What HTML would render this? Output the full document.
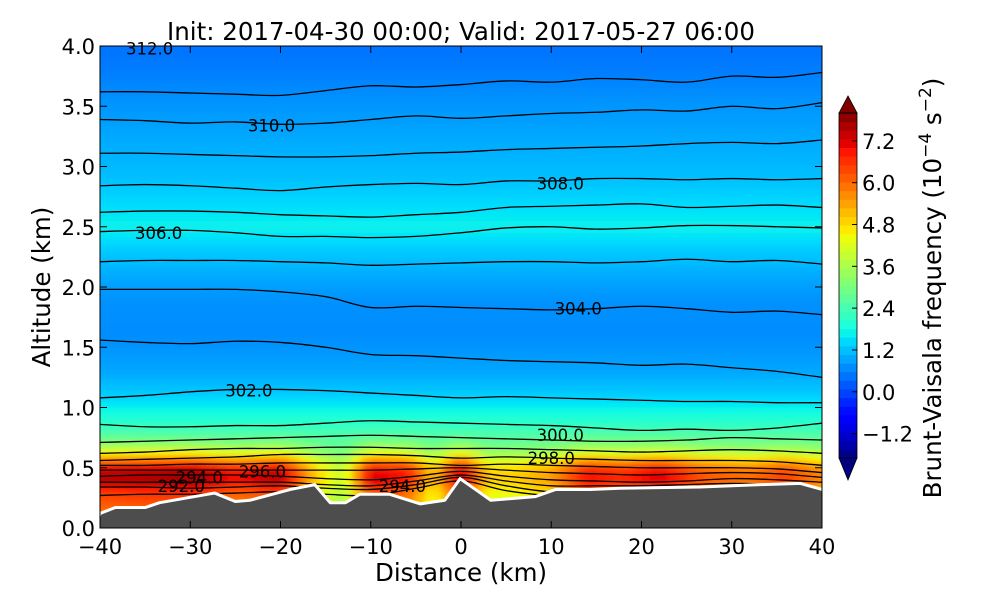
<!DOCTYPE html>
<html><head><meta charset="utf-8"><style>
body{margin:0;background:#fff;}
svg text{font-family:"DejaVu Sans","Liberation Sans",sans-serif;}
</style></head><body>
<svg id="chart" width="1000" height="600" viewBox="0 0 1000 600" xmlns="http://www.w3.org/2000/svg">
<defs>
<clipPath id="plotClip"><rect x="100" y="46" width="722" height="482"/></clipPath>
<filter id="blur" x="-5%" y="-5%" width="110%" height="110%"><feGaussianBlur stdDeviation="3"/></filter>
</defs>
<rect width="1000" height="600" fill="#fff"/>
<text x="461" y="40" font-size="24.5" text-anchor="middle">Init: 2017-04-30 00:00; Valid: 2017-05-27 06:00</text>
<g id="plot" clip-path="url(#plotClip)"><g id="field" filter="url(#blur)"></g><g id="contours"></g><g id="terrain"></g></g>
<g id="labels"></g>
<rect x="100" y="46" width="722" height="482" fill="none" stroke="#000" stroke-width="1"/>
<g id="axes"></g>
<g id="cbar"></g>
<text x="461" y="581" font-size="24.5" text-anchor="middle">Distance (km)</text>
<text transform="translate(50,287) rotate(-90)" font-size="24.5" text-anchor="middle">Altitude (km)</text>
<text transform="translate(941,288) rotate(-90)" font-size="24.5" text-anchor="middle">Brunt-Vaisala frequency (10<tspan dy="-10" font-size="17">−4</tspan><tspan dy="10"> s</tspan><tspan dy="-10" font-size="17">−2</tspan><tspan dy="10">)</tspan></text>
</svg>
<script>
const xTicks=[-40,-30,-20,-10,0,10,20,30,40];
const yTicks=[0.0,0.5,1.0,1.5,2.0,2.5,3.0,3.5,4.0];
const cbarTicks=[-1.2,0.0,1.2,2.4,3.6,4.8,6.0,7.2];
const profileZ=[0.0,0.3,0.4,0.5,0.55,0.6,0.65,0.7,0.8,0.9,1.0,1.1,1.3,1.6,1.9,2.1,2.3,2.5,2.7,2.9,3.2,3.5,3.8,4.0];
const profileN=[5.5,6.5,7.6,7.2,6.2,5.0,4.0,3.2,2.4,2.0,1.7,1.35,0.95,0.7,0.75,1.0,1.3,1.7,1.45,1.2,1.0,0.8,0.55,0.45];
const bandX=[-40,-30,-25,-20,-16,-13,-10,-6,-3,0,3,6,10,14,18,22,27,32,36,40];
const bandS=[1,1.05,0.9,1,0.5,0.3,0.95,0.9,0.5,1,0.5,0.5,0.6,0.9,0.85,0.95,0.75,0.7,0.8,0.65];
const terrainX=[-40,-38.3,-35.0,-33.4,-27.3,-25.0,-23.4,-18.9,-16.2,-14.5,-12.8,-11.2,-7.9,-4.5,-1.8,-0.1,1.6,3.3,8.2,10.5,14.3,17.6,26.5,33.2,37.6,40];
const terrainZ=[0.12,0.17,0.17,0.21,0.29,0.22,0.23,0.32,0.36,0.21,0.21,0.28,0.28,0.20,0.23,0.41,0.32,0.23,0.26,0.32,0.32,0.33,0.34,0.36,0.37,0.32];
const contourX=[-40,-35,-30,-25,-20,-15,-10,-5,0,5,10,15,20,25,30,35,40];
const contourLevels=[311,310,309,308,307,306,305,304,303,302,301,300,299,298,297,296,295,294,293,292];
const contourZ=[
[3.62,3.62,3.61,3.60,3.59,3.63,3.67,3.66,3.68,3.71,3.70,3.73,3.72,3.70,3.75,3.74,3.78],
[3.39,3.38,3.36,3.37,3.35,3.36,3.39,3.42,3.40,3.42,3.44,3.45,3.47,3.46,3.50,3.48,3.53],
[3.11,3.11,3.10,3.09,3.08,3.08,3.09,3.11,3.12,3.14,3.15,3.16,3.17,3.19,3.20,3.19,3.22],
[2.84,2.85,2.84,2.82,2.80,2.83,2.85,2.86,2.85,2.88,2.88,2.90,2.90,2.89,2.90,2.89,2.90],
[2.62,2.63,2.63,2.62,2.60,2.59,2.58,2.60,2.62,2.66,2.67,2.68,2.69,2.66,2.67,2.68,2.66],
[2.46,2.47,2.47,2.45,2.42,2.42,2.41,2.42,2.45,2.49,2.50,2.48,2.49,2.51,2.51,2.50,2.49],
[2.21,2.22,2.22,2.22,2.21,2.20,2.18,2.19,2.20,2.21,2.21,2.20,2.21,2.23,2.21,2.22,2.19],
[1.98,1.98,1.98,1.98,1.96,1.92,1.83,1.84,1.83,1.82,1.81,1.82,1.84,1.82,1.79,1.80,1.77],
[1.56,1.54,1.53,1.55,1.54,1.50,1.44,1.43,1.41,1.39,1.38,1.37,1.35,1.36,1.33,1.30,1.25],
[1.08,1.10,1.13,1.15,1.15,1.14,1.12,1.10,1.08,1.09,1.08,1.07,1.06,1.05,1.05,1.04,1.04],
[0.86,0.84,0.84,0.85,0.85,0.87,0.89,0.88,0.87,0.86,0.85,0.83,0.81,0.82,0.81,0.83,0.87],
[0.71,0.72,0.73,0.74,0.75,0.76,0.77,0.76,0.75,0.74,0.73,0.72,0.72,0.73,0.75,0.74,0.73],
[0.62,0.63,0.65,0.66,0.66,0.67,0.67,0.66,0.66,0.66,0.65,0.64,0.63,0.64,0.65,0.64,0.62],
[0.56,0.57,0.58,0.59,0.61,0.61,0.61,0.60,0.58,0.59,0.58,0.57,0.56,0.56,0.56,0.55,0.52],
[0.52,0.52,0.53,0.53,0.54,0.54,0.54,0.54,0.52,0.53,0.52,0.51,0.50,0.50,0.50,0.49,0.46],
[0.48,0.48,0.48,0.48,0.48,0.48,0.48,0.49,0.50,0.48,0.46,0.45,0.44,0.45,0.46,0.45,0.42],
[0.43,0.44,0.44,0.44,0.43,0.41,0.40,0.43,0.47,0.43,0.40,0.39,0.38,0.39,0.41,0.40,0.38],
[0.38,0.38,0.38,0.38,0.38,0.36,0.35,0.39,0.44,0.39,0.35,0.35,0.35,0.36,0.37,0.36,0.33],
[0.34,0.34,0.33,0.34,0.35,0.33,0.32,0.36,0.42,0.35,0.30,0.31,0.32,0.33,0.33,0.32,0.30],
[0.27,0.28,0.28,0.29,0.30,0.28,0.27,0.33,0.39,0.31,0.27,0.28,0.29,0.30,0.30,0.29,0.28]];
const labelText=["312.0","310.0","308.0","306.0","304.0","302.0","300.0","298.0","296.0","294.0","292.0","294.0"];
const labelX=[-34.5,-21,11,-33.5,13,-23.5,11,10,-22,-29,-31,-6.5];
const labelZ=[3.98,3.34,2.86,2.45,1.82,1.14,0.77,0.58,0.47,0.42,0.35,0.35];

const NS="http://www.w3.org/2000/svg";
const X0=100,X1=822,Y0=528,Y1=46,VMIN=-1.9,VMAX=8.0;
const sx=x=>X0+(x+40)/80*(X1-X0);
const sy=z=>Y0-z/4*(Y0-Y1);
function mk(tag,attrs,parent){const e=document.createElementNS(NS,tag);for(const k in attrs)e.setAttribute(k,attrs[k]);parent.appendChild(e);return e;}
function interp(xs,ys,x){if(x<=xs[0])return ys[0];for(let i=1;i<xs.length;i++){if(x<=xs[i]){const t=(x-xs[i-1])/(xs[i]-xs[i-1]);return ys[i-1]+t*(ys[i]-ys[i-1]);}}return ys[ys.length-1];}
function seg(pts,t){return interp(pts.map(p=>p[0]),pts.map(p=>p[1]),t);}
function jet(t){t=Math.max(0,Math.min(1,t));
const r=seg([[0,0],[0.35,0],[0.66,1],[0.89,1],[1,0.5]],t);
const g=seg([[0,0],[0.125,0],[0.375,1],[0.64,1],[0.91,0],[1,0]],t);
const b=seg([[0,0.5],[0.11,1],[0.34,1],[0.65,0],[1,0]],t);
return `rgb(${Math.round(r*255)},${Math.round(g*255)},${Math.round(b*255)})`;}
const col=v=>jet((v-VMIN)/(VMAX-VMIN));
function fieldVal(x,z){const base=interp(profileZ,profileN,z);if(z<0.8){const s=interp(bandX,bandS,x);return 2.4+(base-2.4)*s;}return base;}

const fg=document.getElementById('field');
const dx=1,dz=4/80;
for(let i=-2;i<82;i++){for(let j=-2;j<82;j++){
 const x=-40+(i+0.5)*dx, z=(j+0.5)*dz;
 const r=mk('rect',{x:sx(x-dx/2)-0.3,y:sy(z+dz/2)-0.3,width:(X1-X0)/80+0.6,height:(Y0-Y1)/80+0.6,fill:col(fieldVal(x,z))},fg);
 
 
}}

function smoothPath(pts){let d=`M${pts[0][0]},${pts[0][1]}`;for(let i=0;i<pts.length-1;i++){const p0=pts[Math.max(0,i-1)],p1=pts[i],p2=pts[i+1],p3=pts[Math.min(pts.length-1,i+2)];
const c1=[p1[0]+(p2[0]-p0[0])/6,p1[1]+(p2[1]-p0[1])/6],c2=[p2[0]-(p3[0]-p1[0])/6,p2[1]-(p3[1]-p1[1])/6];
d+=` C${c1[0]},${c1[1]} ${c2[0]},${c2[1]} ${p2[0]},${p2[1]}`;}return d;}
const cg=document.getElementById('contours');
contourLevels.forEach((lv,k)=>{
 const pts=contourX.map((x,i)=>[sx(x),sy(contourZ[k][i])]);
 const p=mk('path',{d:smoothPath(pts),fill:'none',stroke:'#000','stroke-width':1.3},cg);
 
 
});

const tg=document.getElementById('terrain');
let td=`M${sx(-41)},${sy(-0.1)}`;
terrainX.forEach((x,i)=>{td+=` L${sx(x)},${sy(terrainZ[i])}`;});
td+=` L${sx(41)},${sy(terrainZ[terrainZ.length-1])} L${sx(41)},${sy(-0.1)} Z`;
const tp=mk('path',{d:td,fill:'#4d4d4d',stroke:'#fff','stroke-width':3,'stroke-linejoin':'round'},tg);



const lg=document.getElementById('labels');
labelText.forEach((t,i)=>{
 const e=mk('text',{x:sx(labelX[i]),y:sy(labelZ[i])+6,'font-size':16.5,'text-anchor':'middle',fill:'#000'},lg);
 e.textContent=t;
 
 
});

const ag=document.getElementById('axes');
xTicks.forEach(v=>{
 const x=sx(v);
 mk('line',{x1:x,x2:x,y1:Y0,y2:Y0-7,stroke:'#000'},ag);
 mk('line',{x1:x,x2:x,y1:Y1,y2:Y1+7,stroke:'#000'},ag);
 const t=mk('text',{x:x,y:554,'font-size':21,'text-anchor':'middle'},ag);
 t.textContent=(v<0?'−':'')+Math.abs(v);
 
 
});
yTicks.forEach(v=>{
 const y=sy(v);
 mk('line',{x1:X0,x2:X0+7,y1:y,y2:y,stroke:'#000'},ag);
 mk('line',{x1:X1,x2:X1-7,y1:y,y2:y,stroke:'#000'},ag);
 const t=mk('text',{x:95,y:y+8,'font-size':21,'text-anchor':'end'},ag);
 t.textContent=v.toFixed(1);
 
 
});

const cb=document.getElementById('cbar');
const CX=839,CW=18,CT=113,CB=458;
const cy=v=>CB-(v-VMIN)/(VMAX-VMIN)*(CB-CT);
const nb=40;
for(let i=0;i<nb;i++){
 const v0=VMIN+(VMAX-VMIN)*i/nb,v1=VMIN+(VMAX-VMIN)*(i+1)/nb;
 const r=mk('rect',{x:CX,y:cy(v1),width:CW,height:cy(v0)-cy(v1)+0.5,fill:col((v0+v1)/2)},cb);
 
 
}
const up=mk('polygon',{points:`${CX},${CT} ${CX+CW/2},96 ${CX+CW},${CT}`,fill:'#800000',stroke:'#000','stroke-width':0.8},cb);


const dn=mk('polygon',{points:`${CX},${CB} ${CX+CW/2},480 ${CX+CW},${CB}`,fill:'#000080',stroke:'#000','stroke-width':0.8},cb);


mk('rect',{x:CX,y:CT,width:CW,height:CB-CT,fill:'none',stroke:'#000','stroke-width':0.8},cb);
cbarTicks.forEach(v=>{
 const y=cy(v);
 mk('line',{x1:CX+CW-5,x2:CX+CW,y1:y,y2:y,stroke:'#000'},cb);
 const t=mk('text',{x:862,y:y+8,'font-size':21},cb);
 t.textContent=(v<0?'−':'')+Math.abs(v).toFixed(1);
 
 
});
</script>
</body></html>
